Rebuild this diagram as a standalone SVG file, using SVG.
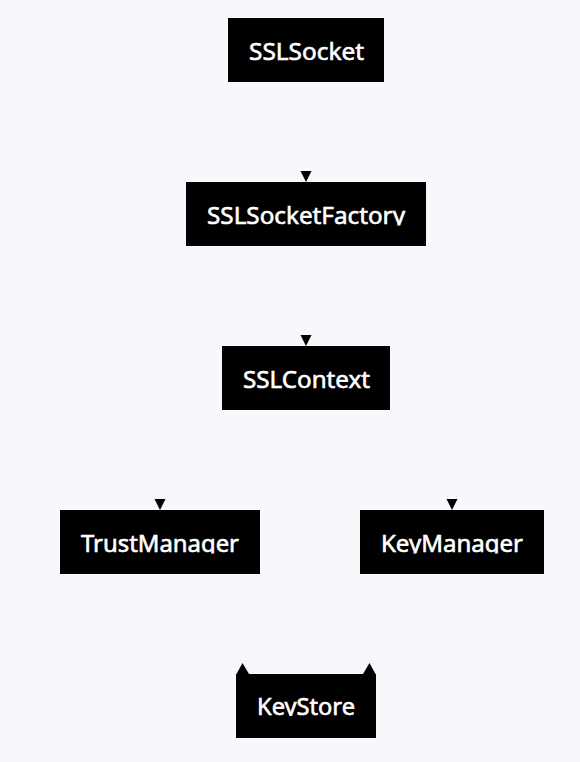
<svg xmlns="http://www.w3.org/2000/svg" width="580" height="762" viewBox="0 0 580 762">
<style>
.box{fill:#000}
.lbl{fill:#fff;stroke:#fff;stroke-width:0.6px;font-family:"Noto Sans","Liberation Sans",sans-serif;font-size:24px;font-weight:400;text-anchor:middle}
.ah{fill:#000}
</style>
<defs>
<path id="ahd" d="M-5.5,-11 L5.5,-11 L0,0 Z"/>
<clipPath id="c1"><rect x="228" y="18" width="156" height="44"/></clipPath>
<clipPath id="c2"><rect x="186" y="182" width="240" height="43.5"/></clipPath>
<clipPath id="c3"><rect x="222" y="346" width="168" height="44"/></clipPath>
<clipPath id="c4"><rect x="60" y="510" width="200" height="43.5"/></clipPath>
<clipPath id="c5"><rect x="360" y="510" width="184" height="43.5"/></clipPath>
<clipPath id="c6"><rect x="236" y="674" width="140" height="42"/></clipPath>
</defs>
<rect width="580" height="762" fill="#f8f8fc"/>
<g id="connectors">
<use href="#ahd" class="ah" x="306" y="182"/>
<use href="#ahd" class="ah" x="306" y="346"/>
<use href="#ahd" class="ah" x="160" y="510"/>
<use href="#ahd" class="ah" x="452" y="510"/>
<path class="ah" d="M236.5,674 L242.5,663 L249,674 Z"/>
<path class="ah" d="M363,674 L369.5,663 L375.5,674 Z"/>
</g>
<g id="SSLSocket">
<rect class="box" x="228" y="18" width="156" height="64"/>
<text class="lbl" x="306.5" y="60" textLength="115" lengthAdjust="spacingAndGlyphs" clip-path="url(#c1)">SSLSocket</text>
</g>
<g id="SSLSocketFactory">
<rect class="box" x="186" y="182" width="240" height="64"/>
<text class="lbl" x="306" y="223.5" textLength="198" lengthAdjust="spacingAndGlyphs" clip-path="url(#c2)">SSLSocketFactory</text>
</g>
<g id="SSLContext">
<rect class="box" x="222" y="346" width="168" height="64"/>
<text class="lbl" x="306.5" y="388" textLength="127" lengthAdjust="spacingAndGlyphs" clip-path="url(#c3)">SSLContext</text>
</g>
<g id="TrustManager">
<rect class="box" x="60" y="510" width="200" height="64"/>
<text class="lbl" x="160" y="552" textLength="158" lengthAdjust="spacingAndGlyphs" clip-path="url(#c4)">TrustManager</text>
</g>
<g id="KeyManager">
<rect class="box" x="360" y="510" width="184" height="64"/>
<text class="lbl" x="452" y="552" textLength="142" lengthAdjust="spacingAndGlyphs" clip-path="url(#c5)">KeyManager</text>
</g>
<g id="KeyStore">
<rect class="box" x="236" y="674" width="140" height="64"/>
<text class="lbl" x="306" y="714.5" textLength="98" lengthAdjust="spacingAndGlyphs" clip-path="url(#c6)">KeyStore</text>
</g>
</svg>
